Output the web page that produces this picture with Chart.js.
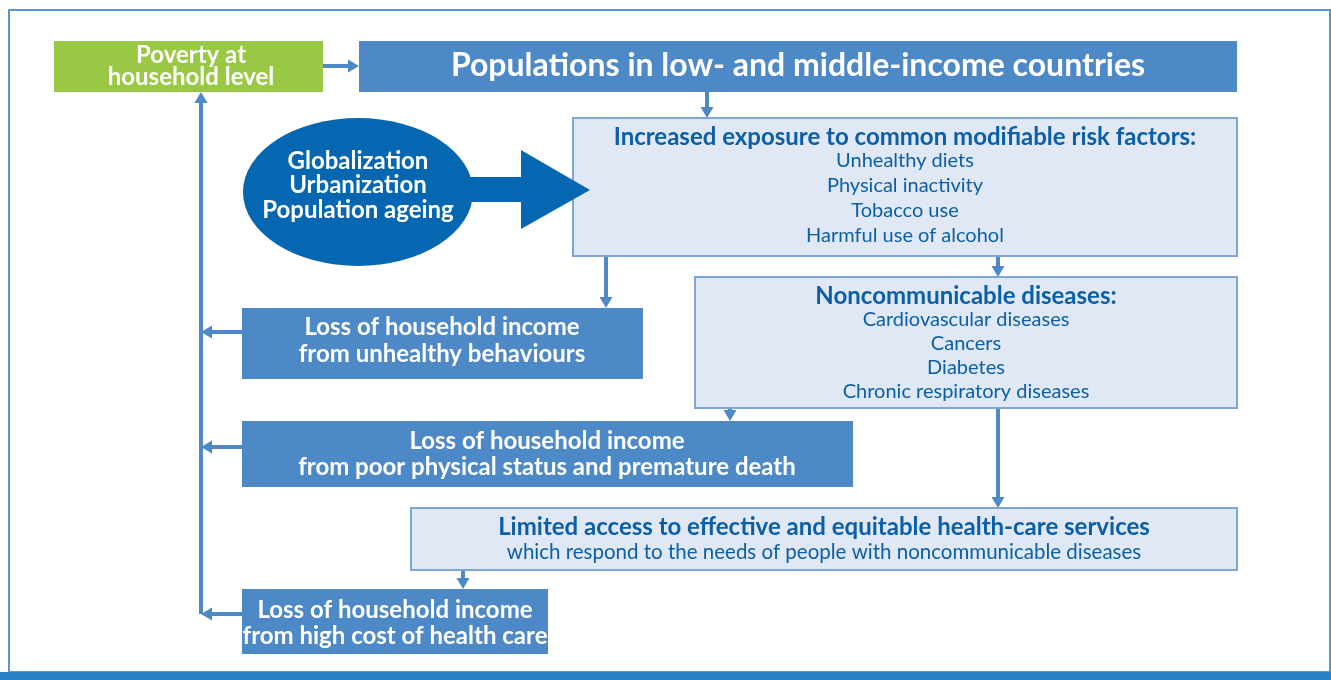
<!DOCTYPE html>
<html>
<head>
<meta charset="utf-8">
<script src="https://cdn.jsdelivr.net/npm/chart.js@4.4.0/dist/chart.umd.min.js"></script>
<style>
  html, body { margin: 0; padding: 0; background: #fff; }
  #wrap { width: 1331px; height: 680px; position: relative; }
</style>
</head>
<body>
<div id="wrap"><canvas id="flow"></canvas></div>
<script>
// texts of the diagram
var povertyLines = ['Poverty at', 'household level'];
var populationLines = ['Populations in low- and middle-income countries'];
var driverLines = ['Globalization', 'Urbanization', 'Population ageing'];
var riskTitle = 'Increased exposure to common modifiable risk factors:';
var riskFactors = ['Unhealthy diets', 'Physical inactivity', 'Tobacco use', 'Harmful use of alcohol'];
var ncdTitle = 'Noncommunicable diseases:';
var ncdList = ['Cardiovascular diseases', 'Cancers', 'Diabetes', 'Chronic respiratory diseases'];
var accessTitle = 'Limited access to effective and equitable health-care services';
var accessSub = ['which respond to the needs of people with noncommunicable diseases'];
var lossBehaviour = ['Loss of household income', 'from unhealthy behaviours'];
var lossDeath = ['Loss of household income', 'from poor physical status and premature death'];
var lossCare = ['Loss of household income', 'from high cost of health care'];

// layout in chart units (x 0..1331, y 0..680 top-down)
var layout = {
    poverty:    [54, 41, 323, 92],
    population: [359, 41, 1237, 92],
    risk:       [573, 118, 1237, 256],
    behaviour:  [242, 308, 643, 379],
    ncd:        [695, 277, 1237, 408],
    death:      [242, 421, 853, 487],
    access:     [411, 508, 1237, 570],
    care:       [242, 589, 548, 654]
};
var ellipse = [358, 192, 115, 74];
var arrows = [
    [323, 66, 359, 66],
    [707, 92, 707, 118],
    [606, 256, 606, 308],
    [998, 256, 998, 277],
    [730, 408, 730, 421],
    [998, 408, 998, 508],
    [463, 570, 463, 589],
    [242, 332, 201, 332],
    [242, 447, 201, 447],
    [242, 614, 201, 614],
    [201, 614, 201, 92]
];

var MID = '#4d88c7', DARK = '#0566b2', PALE = '#e0e8f5', EDGE = '#7da5d6', INK = '#0b5ea8', GREEN = '#98c844';
var FONT = 'Lato, "Open Sans", sans-serif';

var flowPlugin = {
    id: 'flow',
    afterDraw: function (chart) {
        var ctx = chart.ctx;
        var sx = chart.scales.x, sy = chart.scales.y;
        function X(v) { return sx.getPixelForValue(v); }
        function Y(v) { return sy.getPixelForValue(v); }

        function rect(b, fill, stroke) {
            var x0 = X(b[0]), y0 = Y(b[1]), x1 = X(b[2]), y1 = Y(b[3]);
            ctx.fillStyle = fill;
            ctx.fillRect(x0, y0, x1 - x0, y1 - y0);
            if (stroke) {
                ctx.strokeStyle = stroke;
                ctx.lineWidth = 2;
                ctx.strokeRect(x0, y0, x1 - x0, y1 - y0);
            }
        }
        function lines(list, cx, firstY, step, font, color) {
            ctx.font = font;
            ctx.fillStyle = color;
            ctx.textAlign = 'center';
            ctx.textBaseline = 'middle';
            for (var i = 0; i < list.length; i++) {
                ctx.fillText(list[i], X(cx), Y(firstY + i * step));
            }
        }
        function arrow(a) {
            var x0 = X(a[0]), y0 = Y(a[1]), x1 = X(a[2]), y1 = Y(a[3]);
            var ang = Math.atan2(y1 - y0, x1 - x0);
            var len = 11, half = 6.5;
            var bx = x1 - Math.cos(ang) * len, by = y1 - Math.sin(ang) * len;
            ctx.strokeStyle = MID;
            ctx.lineWidth = 4;
            ctx.beginPath();
            ctx.moveTo(x0, y0);
            ctx.lineTo(bx, by);
            ctx.stroke();
            ctx.fillStyle = MID;
            ctx.beginPath();
            ctx.moveTo(x1, y1);
            ctx.lineTo(bx - Math.sin(ang) * half, by + Math.cos(ang) * half);
            ctx.lineTo(bx + Math.sin(ang) * half, by - Math.cos(ang) * half);
            ctx.closePath();
            ctx.fill();
        }

        ctx.save();
        // frame
        ctx.strokeStyle = '#5b95d0';
        ctx.lineWidth = 2;
        ctx.strokeRect(X(9), Y(10), X(1330) - X(9), Y(672) - Y(10));
        ctx.fillStyle = '#2a80c5';
        ctx.fillRect(X(0), Y(672), X(1331) - X(0), Y(680) - Y(672));

        arrows.forEach(arrow);

        rect(layout.poverty, GREEN);
        lines(povertyLines, 191, 55, 22, 'bold 24px ' + FONT, '#fff');
        rect(layout.population, MID);
        lines(populationLines, 798, 66, 0, 'bold 32px ' + FONT, '#fff');

        rect(layout.risk, PALE, EDGE);
        lines([riskTitle], 905, 137, 0, 'bold 24px ' + FONT, INK);
        lines(riskFactors, 905, 161, 24.7, '20px ' + FONT, INK);

        rect(layout.ncd, PALE, EDGE);
        lines([ncdTitle], 966, 296, 0, 'bold 24px ' + FONT, INK);
        lines(ncdList, 966, 320, 24, '20px ' + FONT, INK);

        rect(layout.access, PALE, EDGE);
        lines([accessTitle], 824, 527, 0, 'bold 24px ' + FONT, INK);
        lines(accessSub, 824, 552, 0, '20.5px ' + FONT, INK);

        rect(layout.behaviour, MID);
        lines(lossBehaviour, 442, 327, 27, 'bold 24px ' + FONT, '#fff');
        rect(layout.death, MID);
        lines(lossDeath, 547, 441, 26, 'bold 24px ' + FONT, '#fff');
        rect(layout.care, MID);
        lines(lossCare, 395, 610, 26, 'bold 24px ' + FONT, '#fff');

        // drivers: ellipse and big arrow
        ctx.fillStyle = DARK;
        ctx.beginPath();
        ctx.ellipse(X(ellipse[0]), Y(ellipse[1]), X(ellipse[2]) - X(0), Y(ellipse[3]) - Y(0), 0, 0, Math.PI * 2);
        ctx.fill();
        var shape = [[440, 177], [521, 177], [521, 150], [590, 190], [521, 229], [521, 202], [440, 202]];
        ctx.beginPath();
        shape.forEach(function (p, i) {
            if (i === 0) ctx.moveTo(X(p[0]), Y(p[1])); else ctx.lineTo(X(p[0]), Y(p[1]));
        });
        ctx.closePath();
        ctx.fill();
        lines(driverLines, 358, 161, 24.5, 'bold 24px ' + FONT, '#fff');
        ctx.restore();
    }
};

var ctx = document.getElementById('flow').getContext('2d');
var flowChart = new Chart(ctx, {
    type: 'scatter',
    data: { datasets: [{ data: [] }] },
    options: {
        responsive: true,
        maintainAspectRatio: false,
        animation: false,
        layout: { padding: 0 },
        plugins: { legend: { display: false }, tooltip: { enabled: false } },
        scales: {
            x: { type: 'linear', min: 0, max: 1331, display: false },
            y: { type: 'linear', min: 0, max: 680, reverse: true, display: false }
        }
    },
    plugins: [flowPlugin]
});
</script>
</body>
</html>
